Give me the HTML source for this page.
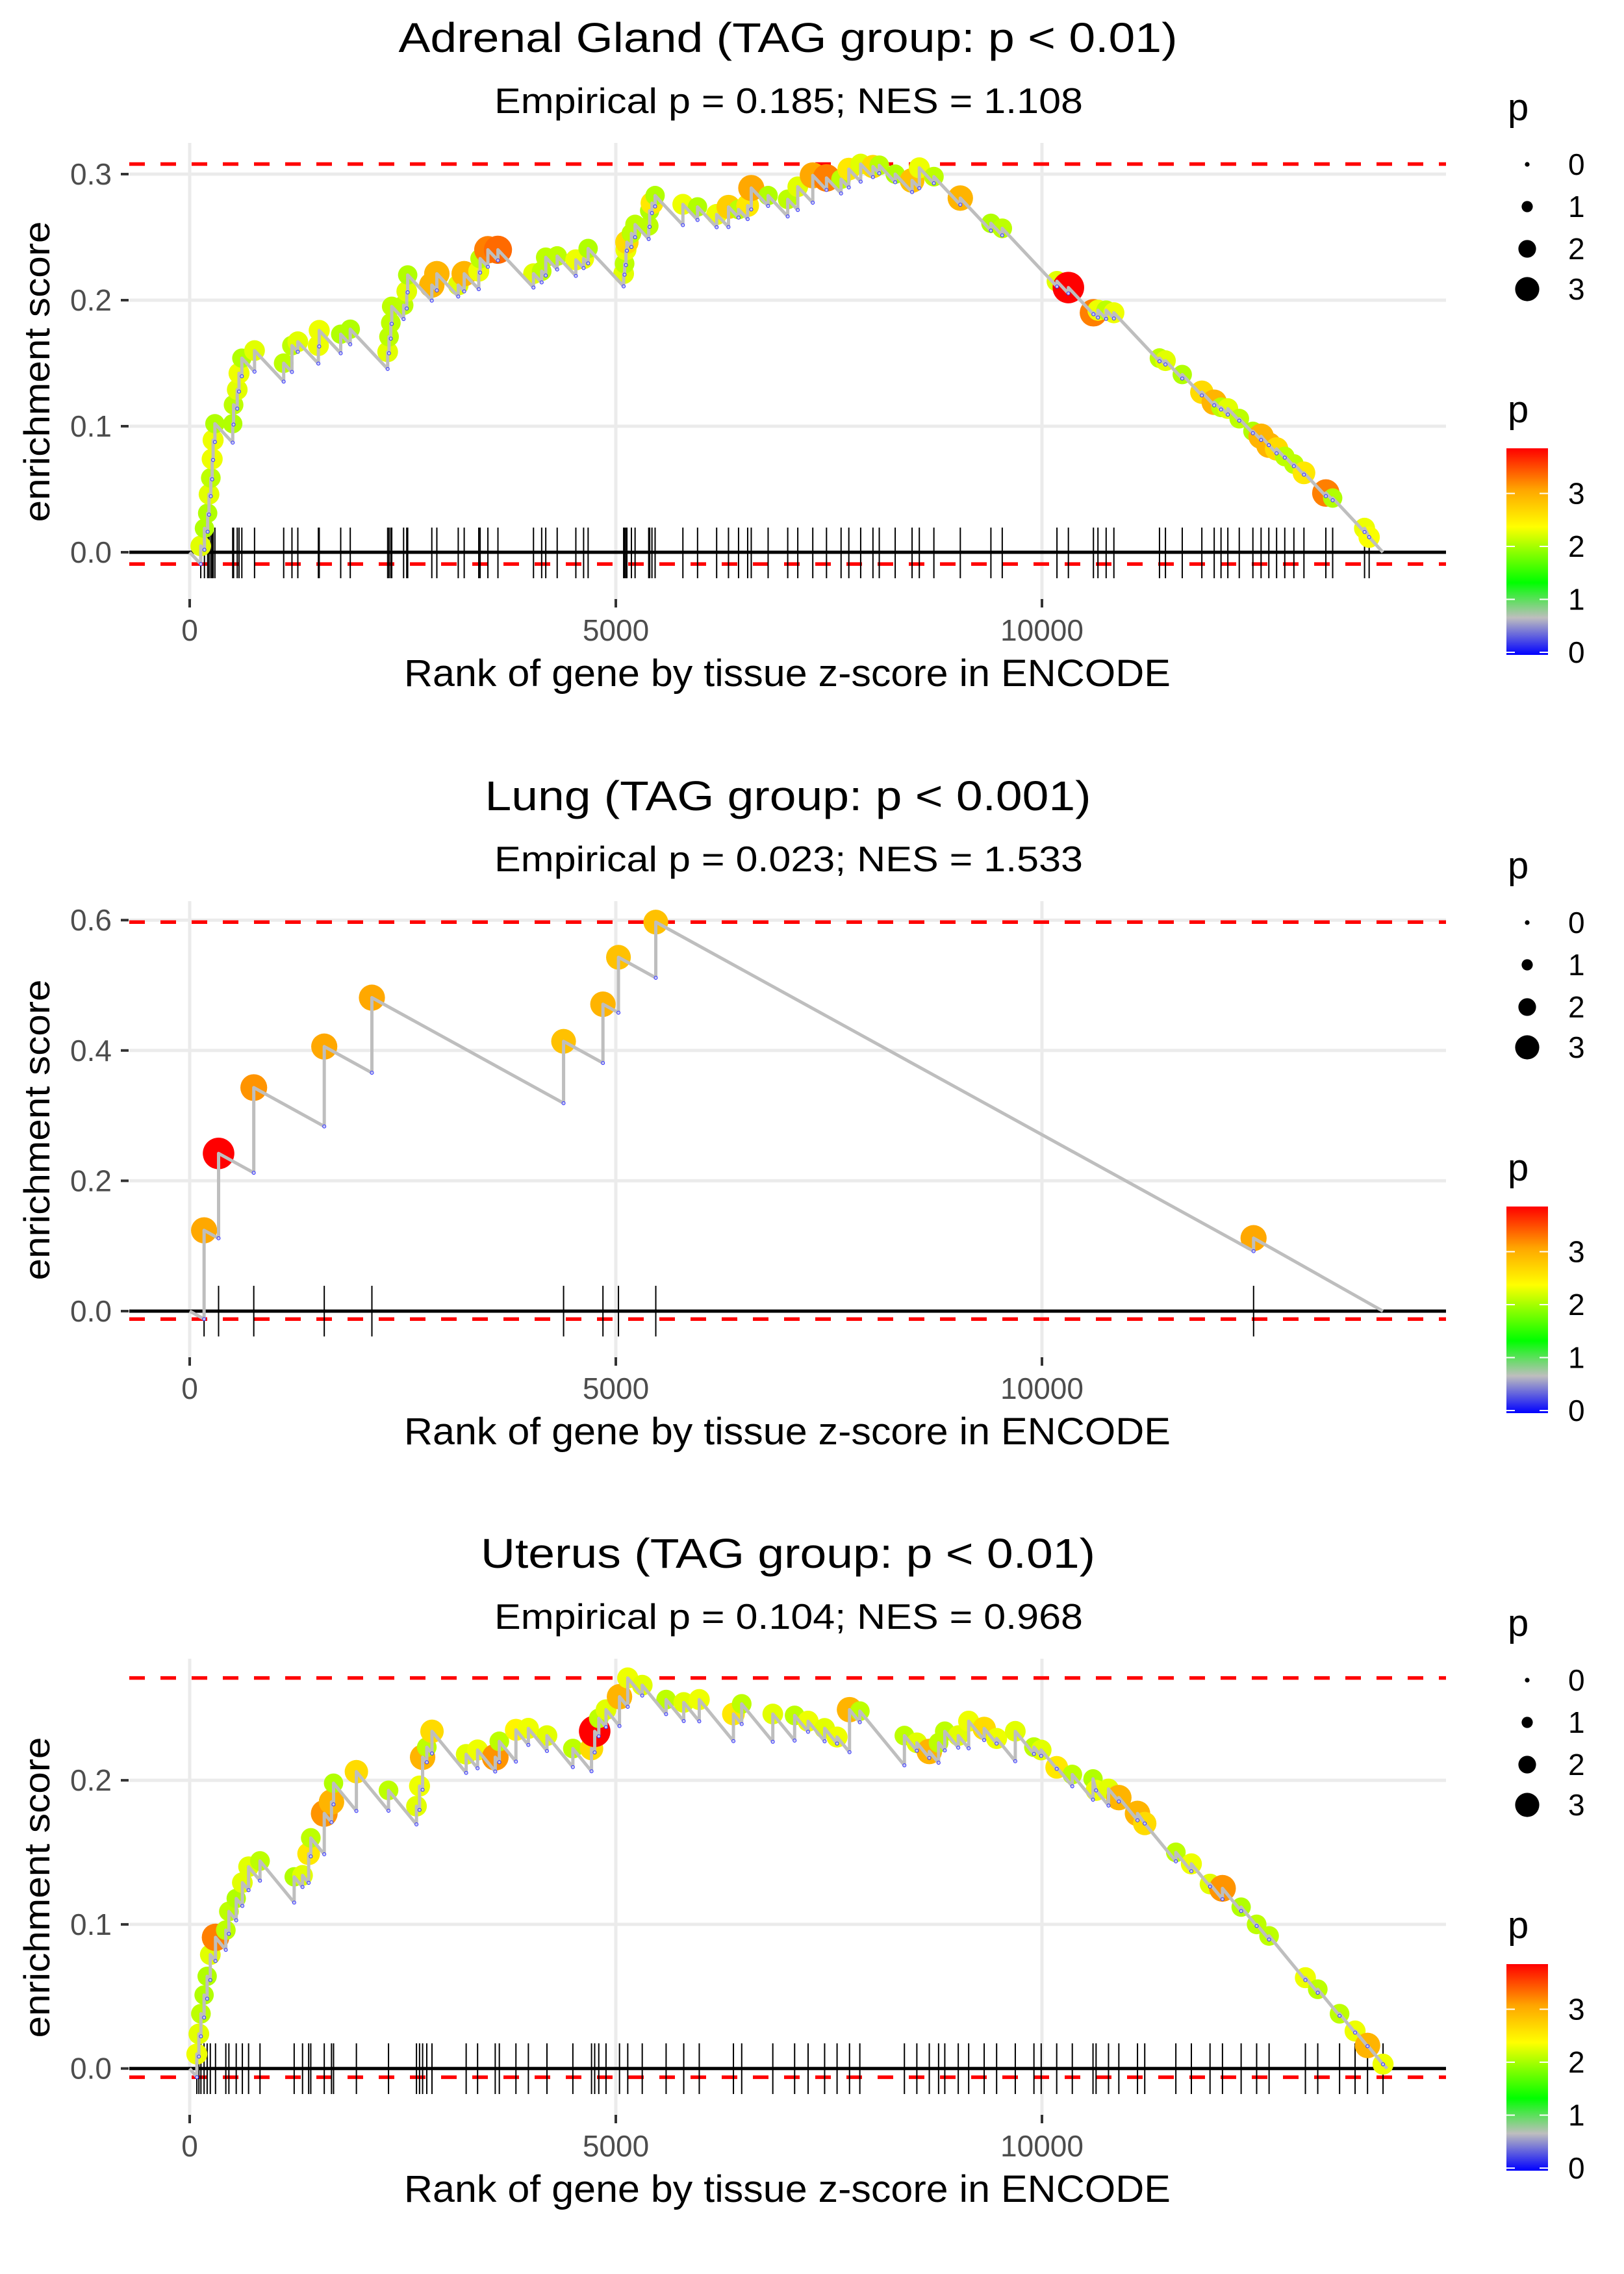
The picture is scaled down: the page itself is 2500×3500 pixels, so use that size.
<!DOCTYPE html>
<html><head><meta charset="utf-8"><title>Enrichment plots</title>
<style>
html,body{margin:0;padding:0;background:#fff;}
svg{display:block;font-family:"Liberation Sans",sans-serif;}
</style></head>
<body>
<svg id="chart" xmlns="http://www.w3.org/2000/svg" width="2500" height="3500" viewBox="0 0 2500 3500">
<defs>
<linearGradient id="pgrad" x1="0" y1="1" x2="0" y2="0">
<stop offset="0" stop-color="#0000ff"/>
<stop offset="0.18" stop-color="#bebebe"/>
<stop offset="0.35" stop-color="#00ff00"/>
<stop offset="0.62" stop-color="#ffff00"/>
<stop offset="0.8" stop-color="#ffa500"/>
<stop offset="1" stop-color="#ff0000"/>
</linearGradient>
</defs>
<rect width="2500" height="3500" fill="#fff"/>
<g id="panel0"></g>
<g id="panel1" transform="translate(0,1167)"></g>
<g id="panel2" transform="translate(0,2333)"></g>
</svg>
<script>
// ---- Panel data ----
const titles = ["Adrenal Gland (TAG group: p < 0.01)", "Lung (TAG group: p < 0.001)", "Uterus (TAG group: p < 0.01)"];
const titleLengths = [1199, 933, 946];
const subtitles = ["Empirical p = 0.185; NES = 1.108", "Empirical p = 0.023; NES = 1.533", "Empirical p = 0.104; NES = 0.968"];
const xTicks = [0, 5000, 10000];
const xTickLabels = ["0", "5000", "10000"];
const yTicks0 = [0, 0.1, 0.2, 0.3];
const yTickLabels0 = ["0.0", "0.1", "0.2", "0.3"];
const yTicks1 = [0, 0.2, 0.4, 0.6];
const yTickLabels1 = ["0.0", "0.2", "0.4", "0.6"];
const yTicks2 = [0, 0.1, 0.2];
const yTickLabels2 = ["0.0", "0.1", "0.2"];
const nGenes = [14000, 14000, 14050];
const slope = 7.2e-5;

const ranks0 = [130,173,211,227,248,264,275,296,505,515,558,579,612,761,1103,1200,1269,1510,1520,1772,1884,2323,2339,2360,2371,2510,2547,2558,2841,2900,3151,3221,3392,3408,3499,3617,4034,4130,4178,4312,4531,4622,4675,5092,5103,5119,5130,5183,5226,5386,5397,5424,5461,5787,5959,6183,6322,6440,6547,6589,6787,7017,7135,7311,7472,7643,7734,7873,8017,8091,8278,8476,8561,8732,9042,9401,9534,10176,10310,10604,10657,10753,10844,11379,11449,11646,11876,12021,12101,12181,12315,12475,12571,12662,12753,12849,12956,13074,13331,13411,13785,13839];
const es0 = [0.005,0.019,0.031,0.046,0.059,0.074,0.089,0.102,0.102,0.117,0.129,0.142,0.154,0.160,0.150,0.164,0.167,0.164,0.176,0.173,0.177,0.159,0.171,0.182,0.195,0.196,0.207,0.220,0.212,0.221,0.212,0.221,0.223,0.233,0.240,0.240,0.221,0.223,0.234,0.235,0.232,0.233,0.241,0.221,0.229,0.240,0.246,0.253,0.260,0.259,0.271,0.277,0.283,0.276,0.274,0.268,0.274,0.272,0.275,0.289,0.283,0.280,0.290,0.299,0.297,0.296,0.304,0.308,0.306,0.307,0.300,0.295,0.305,0.298,0.281,0.261,0.257,0.215,0.210,0.190,0.192,0.192,0.190,0.154,0.152,0.141,0.127,0.119,0.115,0.114,0.106,0.096,0.092,0.085,0.082,0.076,0.070,0.063,0.047,0.043,0.019,0.012];
const p0 = [2.3,2.1,2.1,2.3,2.15,2.35,2.35,2.1,2.1,2.15,2.3,2.35,2.1,2.3,2.15,2.15,2.3,2.35,2.35,2.1,2.1,2.3,2.15,2.15,2.15,2.15,2.3,2.1,3.0,3.0,2.3,3.0,2.35,2.15,3.3,3.4,2.3,2.15,2.15,2.15,2.35,2.35,2.1,2.3,2.15,2.35,2.7,2.15,2.15,2.15,2.1,2.6,2.1,2.35,2.1,2.35,2.8,2.15,2.6,3.1,2.1,2.15,2.3,3.1,3.3,2.15,2.6,2.3,2.7,2.15,2.1,2.9,2.35,2.15,3.0,2.1,2.15,2.3,3.9,3.3,2.35,2.15,2.35,2.15,2.3,2.1,2.7,3.0,2.15,2.3,2.15,2.1,3.0,3.0,2.7,2.15,2.15,2.6,3.3,2.1,2.35,2.4];

const ranks1 = [169,339,752,1579,2138,4387,4849,5031,5469,12483];
const es1 = [0.124,0.242,0.343,0.406,0.481,0.414,0.471,0.543,0.597,0.112];
const p1 = [3.1,3.9,3.2,3.1,3.1,2.9,3.0,2.9,2.9,3.1];

const ranks2 = [84,108,132,169,205,242,303,424,460,546,618,691,825,1226,1324,1396,1421,1579,1664,1688,1956,2333,2661,2697,2733,2782,2843,3244,3378,3585,3633,3828,3974,4192,4496,4715,4752,4800,4885,5043,5140,5310,5590,5797,5979,6380,6477,6842,7098,7256,7450,7596,7742,7863,8386,8532,8678,8787,8860,9018,9140,9322,9468,9687,9906,9991,10173,10356,10599,10635,10781,10902,11121,11206,11571,11753,11972,12118,12337,12519,12665,13091,13236,13492,13674,13820,14002];
const es2 = [0.010,0.024,0.038,0.051,0.064,0.079,0.091,0.096,0.109,0.118,0.129,0.140,0.144,0.133,0.134,0.149,0.160,0.177,0.185,0.198,0.206,0.193,0.182,0.196,0.216,0.223,0.234,0.218,0.221,0.216,0.227,0.235,0.236,0.231,0.222,0.222,0.234,0.243,0.249,0.258,0.271,0.266,0.256,0.254,0.256,0.246,0.253,0.246,0.245,0.241,0.236,0.230,0.249,0.248,0.231,0.226,0.220,0.226,0.234,0.231,0.241,0.236,0.229,0.234,0.223,0.221,0.209,0.204,0.201,0.193,0.194,0.188,0.177,0.170,0.150,0.142,0.128,0.125,0.112,0.100,0.092,0.063,0.055,0.038,0.026,0.016,0.003];
const p2 = [2.35,2.3,2.15,2.1,2.1,2.3,3.3,2.15,2.15,2.1,2.3,2.3,2.15,2.1,2.3,2.6,2.15,3.2,3.0,2.1,2.7,2.15,2.3,2.35,3.0,2.15,2.7,2.3,2.35,3.2,2.15,2.5,2.35,2.3,2.15,2.7,3.9,2.15,2.3,3.0,2.35,2.3,2.15,2.3,2.35,2.6,2.15,2.3,2.15,2.35,2.3,2.35,3.0,2.15,2.15,2.3,3.0,2.15,2.15,2.3,2.35,2.7,2.35,2.3,2.15,2.3,2.6,2.15,2.1,2.35,2.3,3.0,3.0,2.7,2.15,2.35,2.3,3.2,2.1,2.15,2.15,2.35,2.15,2.15,2.35,3.0,2.35];

const allRanks = [ranks0, ranks1, ranks2];
const allEs = [es0, es1, es2];
const allP = [p0, p1, p2];
const allYTicks = [yTicks0, yTicks1, yTicks2];
const allYTickLabels = [yTickLabels0, yTickLabels1, yTickLabels2];
// pixel calibration per panel (layout, not data)
const yZero = [850, 851, 850.7];
const yScalePx = [1940, 1003, 2218];

const NS = "http://www.w3.org/2000/svg";
function mk(parent, tag, attrs) {
  const e = document.createElementNS(NS, tag);
  for (const k in attrs) e.setAttribute(k, attrs[k]);
  parent.appendChild(e);
  return e;
}
const stops = [[0,[0,0,255]],[0.7,[190,190,190]],[1.37,[0,255,0]],[2.42,[255,255,0]],[3.12,[255,165,0]],[3.9,[255,0,0]]];
function pColor(p) {
  if (p <= stops[0][0]) return "rgb(0,0,255)";
  for (let i = 1; i < stops.length; i++) {
    if (p <= stops[i][0]) {
      const t = (p - stops[i-1][0]) / (stops[i][0] - stops[i-1][0]);
      const a = stops[i-1][1], b = stops[i][1];
      return "rgb(" + [0,1,2].map(k => Math.round(a[k] + (b[k]-a[k])*t)).join(",") + ")";
    }
  }
  return "rgb(255,0,0)";
}
function pRadius(p) { return 4 + 5.2 * p; }

for (let k = 0; k < 3; k++) {
  const g = document.getElementById("panel" + k);
  const xScale = r => 292 + r * 0.1312;
  const yScale = e => yZero[k] - e * yScalePx[k];
  const ranks = allRanks[k], es = allEs[k], ps = allP[k];

  let t = mk(g, "text", {x:1213, y:80, "font-size":64, "text-anchor":"middle", fill:"#000", textLength:titleLengths[k], lengthAdjust:"spacingAndGlyphs"});
  t.textContent = titles[k];
  
  
  t = mk(g, "text", {x:1214, y:174, "font-size":55, "text-anchor":"middle", fill:"#000", textLength:906, lengthAdjust:"spacingAndGlyphs"});
  t.textContent = subtitles[k];
  
  

  allYTicks[k].forEach((v, i) => {
    const y = yScale(v);
    const gl = mk(g, "line", {x1:199, x2:2226, y1:y, y2:y, stroke:"#ebebeb", "stroke-width":5});
    
    
    const tk = mk(g, "line", {x1:186, x2:198, y1:y, y2:y, stroke:"#333", "stroke-width":4});
    
    
    const lb = mk(g, "text", {x:172, y:y+16, "font-size":46, "text-anchor":"end", fill:"#4d4d4d"});
    lb.textContent = allYTickLabels[k][i];
    
    
  });
  xTicks.forEach((v, i) => {
    const x = xScale(v);
    const gl = mk(g, "line", {x1:x, x2:x, y1:220, y2:925, stroke:"#ebebeb", "stroke-width":5});
    
    
    const tk = mk(g, "line", {x1:x, x2:x, y1:922, y2:935, stroke:"#333", "stroke-width":4});
    
    
    const lb = mk(g, "text", {x:x, y:986, "font-size":46, "text-anchor":"middle", fill:"#4d4d4d"});
    lb.textContent = xTickLabels[i];
    
    
  });

  const N = nGenes[k];
  let prevR = 0, prevE = 0;
  const pts = [[xScale(0), yScale(0)]];
  const bottoms = [];
  let maxE = 0, minE = 0;
  for (let i = 0; i < ranks.length; i++) {
    let b = prevE - slope * (ranks[i] - prevR);
    if (b > es[i]) b = es[i];
    bottoms.push(b);
    pts.push([xScale(ranks[i]), yScale(b)]);
    pts.push([xScale(ranks[i]), yScale(es[i])]);
    maxE = Math.max(maxE, es[i]);
    minE = Math.min(minE, b);
    prevR = ranks[i]; prevE = es[i];
  }
  pts.push([xScale(N), yScale(0)]);

  [maxE, minE].forEach((v, j) => {
    const d = mk(g, "line", {x1:199, x2:2226, y1:yScale(v), y2:yScale(v), stroke:"#ff0000", "stroke-width":5.5, "stroke-dasharray":"24 24"});
    
    
  });

  ranks.forEach(r => {
    const rl = mk(g, "line", {x1:xScale(r), x2:xScale(r), y1:812, y2:890, stroke:"#000", "stroke-width":2});
    
    
  });
  const zl = mk(g, "line", {x1:199, x2:2226, y1:yScale(0), y2:yScale(0), stroke:"#000", "stroke-width":5});
  
  

  ranks.forEach((r, i) => {
    const c = mk(g, "circle", {cx:xScale(r), cy:yScale(es[i]), r:pRadius(ps[i]), fill:pColor(ps[i])});
    
    
  });
  const pl = mk(g, "polyline", {points:pts.map(p => p.join(",")).join(" "), fill:"none", stroke:"#bebebe", "stroke-width":5, "stroke-linejoin":"round"});
  
  
  ranks.forEach((r, i) => {
    const c = mk(g, "circle", {cx:xScale(r), cy:yScale(bottoms[i]), r:2.5, fill:"#c8c8f0", stroke:"#3030ff", "stroke-width":1});
    
    
  });

  t = mk(g, "text", {x:1212, y:1056, "font-size":58, "text-anchor":"middle", fill:"#000", textLength:1180, lengthAdjust:"spacingAndGlyphs"});
  t.textContent = "Rank of gene by tissue z-score in ENCODE";
  
  
  t = mk(g, "text", {x:0, y:0, "font-size":56, "text-anchor":"middle", fill:"#000", textLength:463, lengthAdjust:"spacingAndGlyphs", transform:"translate(76,572) rotate(-90)"});
  t.textContent = "enrichment score";
  
  

  t = mk(g, "text", {x:2321, y:185, "font-size":58, fill:"#000"});
  t.textContent = "p";
  
  
  [0,1,2,3].forEach((v, i) => {
    const y = [253,318,383,445][i];
    const c = mk(g, "circle", {cx:2351, cy:y, r:3.6 + 5 * v, fill:"#000"});
    
    
    const lb = mk(g, "text", {x:2414, y:y+16, "font-size":46, fill:"#000"});
    lb.textContent = String(v);
    
    
  });
  t = mk(g, "text", {x:2321, y:650, "font-size":58, fill:"#000"});
  t.textContent = "p";
  
  
  const cb = mk(g, "rect", {x:2319, y:690, width:64, height:318, fill:"url(#pgrad)"});
  
  
  [0,1,2,3].forEach(v => {
    const y = 1004 - v * 81.5;
    const a = mk(g, "line", {x1:2319, x2:2332, y1:y, y2:y, stroke:"#fff", "stroke-width":2});
    
    
    const b = mk(g, "line", {x1:2370, x2:2383, y1:y, y2:y, stroke:"#fff", "stroke-width":2});
    
    
    const lb = mk(g, "text", {x:2414, y:y+16, "font-size":46, fill:"#000"});
    lb.textContent = String(v);
    
    
  });
}
</script>
</body></html>
